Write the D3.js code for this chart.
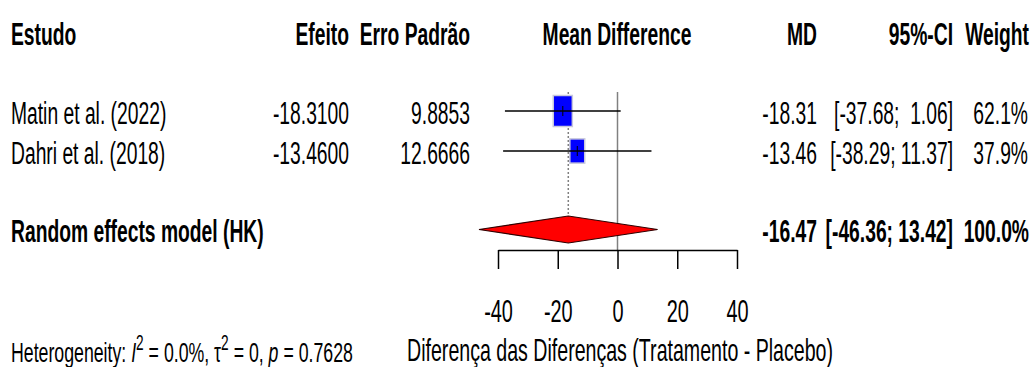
<!DOCTYPE html>
<html>
<head>
<meta charset="utf-8">
<script src="https://cdn.jsdelivr.net/npm/d3@7"></script>
<style>
  html, body { margin: 0; padding: 0; background: #fff; }
  svg { display: block; font-family: "Liberation Sans", Arial, sans-serif; }
  text { white-space: pre; }
</style>
</head>
<body>
<div id="chart"></div>
<script>
// study data
const studies = ['Matin et al. (2022)', 'Dahri et al. (2018)']
const effects = [-18.31, -13.46]
const stdErrors = [9.8853, 12.6666]
const ciLower = [-37.68, -38.29]
const ciUpper = [1.06, 11.37]
const weights = [62.1, 37.9]

// pooled estimate
const pooledLabel = 'Random effects model (HK)'
const pooled = { md: -16.47, lower: -46.36, upper: 13.42, weight: 100.0 }
const hetero = { i2: '0.0%', tau2: '0', p: '0.7628' }

const headers = ['Estudo', 'Efeito', 'Erro Padrão', 'Mean Difference', 'MD', '95%-CI', 'Weight']
const xTicks = [-40, -20, 0, 20, 40]
const xLabel = 'Diferença das Diferenças (Tratamento - Placebo)'

const width = 1034
const height = 367
const SX = 0.622 // horizontal squeeze of the original picture
const FS = 31

const svg = d3
  .select('#chart')
  .append('svg')
  .attr('width', width)
  .attr('height', height)

const x = d3.scaleLinear().domain([-40, 40]).range([498, 737])
const rowY = [111, 151]
const pooledY = 229.5
const topY = 92
const axisY = 250

function label(str, px, py, opts = {}) {
  return svg
    .append('text')
    .attr('transform', `translate(${px},${py}) scale(${SX},1)`)
    .attr('text-anchor', opts.anchor || 'start')
    .attr('font-size', opts.size || FS)
    .attr('font-weight', opts.bold ? 'bold' : 'normal')
    .attr('fill', '#000')
    .text(str)
}

const fmt4 = d3.format('.4f')
const fmt2 = d3.format('.2f')
function ci(lo, hi) {
  const a = fmt2(lo).replace('−', '-')
  const b = fmt2(hi).replace('−', '-')
  return `[${a.padStart(6, ' ')}; ${b.padStart(5, ' ')}]`
}

// header
const headY = 45
label(headers[0], 11, headY, { bold: true })
label(headers[1], 349, headY, { bold: true, anchor: 'end' })
label(headers[2], 470, headY, { bold: true, anchor: 'end' })
label(headers[3], 617, headY, { bold: true, anchor: 'middle' })
label(headers[4], 817, headY, { bold: true, anchor: 'end' })
label(headers[5], 953, headY, { bold: true, anchor: 'end' })
label(headers[6], 1029, headY, { bold: true, anchor: 'end' })

// reference lines
svg
  .append('line')
  .attr('x1', x(0))
  .attr('x2', x(0))
  .attr('y1', topY)
  .attr('y2', axisY)
  .attr('stroke', '#808080')
  .attr('stroke-width', 1.5)

svg
  .append('line')
  .attr('x1', x(pooled.md))
  .attr('x2', x(pooled.md))
  .attr('y1', topY)
  .attr('y2', pooledY - 13)
  .attr('stroke', '#808080')
  .attr('stroke-width', 1.5)
  .attr('stroke-dasharray', '2,2')

// study rows
const boxK = 31 / Math.sqrt(62.1)
studies.forEach((name, i) => {
  const y = rowY[i]
  const tb = y + 13
  label(name, 11, tb)
  label(fmt4(effects[i]).replace('−', '-'), 349, tb, { anchor: 'end' })
  label(fmt4(stdErrors[i]), 470, tb, { anchor: 'end' })
  label(fmt2(effects[i]).replace('−', '-'), 817, tb, { anchor: 'end' })
  label(ci(ciLower[i], ciUpper[i]), 953, tb, { anchor: 'end' })
  label(weights[i].toFixed(1) + '%', 1028, tb, { anchor: 'end' })

  const h = boxK * Math.sqrt(weights[i])
  const w = h * 0.615
  svg
    .append('rect')
    .attr('x', x(effects[i]) - w / 2)
    .attr('y', y - h / 2)
    .attr('width', w)
    .attr('height', h)
    .attr('fill', '#0000ff')
    .attr('stroke', '#c8c8dc')
    .attr('stroke-width', 1.5)

  svg
    .append('line')
    .attr('x1', x(ciLower[i]))
    .attr('x2', x(ciUpper[i]))
    .attr('y1', y)
    .attr('y2', y)
    .attr('stroke', '#000')
    .attr('stroke-width', 1.6)

  svg
    .append('line')
    .attr('x1', x(effects[i]))
    .attr('x2', x(effects[i]))
    .attr('y1', y - 5)
    .attr('y2', y + 5)
    .attr('stroke', '#000')
    .attr('stroke-width', 1)
})

// pooled row
const pb = pooledY + 12.5
label(pooledLabel, 11, pb, { bold: true })
label(fmt2(pooled.md).replace('−', '-'), 817, pb, { bold: true, anchor: 'end' })
label(ci(pooled.lower, pooled.upper), 953, pb, { bold: true, anchor: 'end' })
label(pooled.weight.toFixed(1) + '%', 1029, pb, { bold: true, anchor: 'end' })

const dh = 13.5
svg
  .append('polygon')
  .attr(
    'points',
    [
      [x(pooled.lower), pooledY],
      [x(pooled.md), pooledY - dh],
      [x(pooled.upper), pooledY],
      [x(pooled.md), pooledY + dh],
    ]
      .map((p) => p.join(','))
      .join(' '),
  )
  .attr('fill', '#ff0000')
  .attr('stroke', '#300000')
  .attr('stroke-width', 1.2)

// x axis
const axisG = svg
  .append('g')
  .attr('transform', `translate(0,${axisY})`)
  .call(d3.axisBottom(x).tickValues(xTicks).tickSize(19).tickSizeOuter(0))

axisG.select('.domain').attr('stroke', '#000').attr('stroke-width', 1.5)
axisG.selectAll('.tick line').attr('stroke', '#000').attr('stroke-width', 1.5)
axisG
  .selectAll('.tick text')
  .attr('y', 72)
  .attr('dy', 0)
  .attr('fill', '#000')
  .attr('font-size', 32)
  .attr('font-family', '"Liberation Sans", Arial, sans-serif')
  .attr('transform', `scale(${SX},1)`)
  .text((d) => String(d))

label(xLabel, 620, 361, { anchor: 'middle', size: 31.5 })

// heterogeneity
const het = label('', 11, 362, { size: 28.5 })
het.append('tspan').text('Heterogeneity: ')
het.append('tspan').attr('font-style', 'italic').text('I')
het.append('tspan').attr('font-size', 22).attr('dy', -12).text('2')
het.append('tspan').attr('dy', 12).text(` = ${hetero.i2}, τ`)
het.append('tspan').attr('font-size', 22).attr('dy', -12).text('2')
het.append('tspan').attr('dy', 12).text(` = ${hetero.tau2}, `)
het.append('tspan').attr('font-style', 'italic').text('p')
het.append('tspan').text(` = ${hetero.p}`)
</script>
</body>
</html>
